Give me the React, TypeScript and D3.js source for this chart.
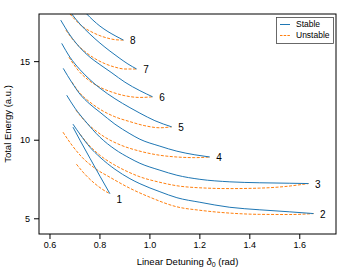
import React, { useEffect, useRef } from "react";
import * as d3 from "d3";

// [detuning (rad), total energy (a.u.)]
const stable1: [number, number][] = [[0.694, 10.8], [0.722, 9.97], [0.762, 8.82], [0.802, 7.68], [0.842, 6.56]];
const unstable1: [number, number][] = [[0.708, 8.44], [0.742, 7.8], [0.782, 7.2], [0.814, 6.82], [0.842, 6.56]];

const stable2: [number, number][] = [[0.694, 10.99], [0.722, 10.35], [0.762, 9.52], [0.802, 8.89], [0.862, 8.12], [0.922, 7.52], [0.962, 7.2], [1.042, 6.69], [1.11, 6.31], [1.202, 6.02], [1.322, 5.7], [1.442, 5.54], [1.562, 5.41], [1.657, 5.3]];
const unstable2: [number, number][] = [[0.654, 10.48], [0.69, 9.65], [0.73, 8.89], [0.782, 8.18], [0.842, 7.61], [0.922, 6.91], [1.002, 6.34], [1.11, 5.73], [1.202, 5.51], [1.322, 5.33], [1.442, 5.25], [1.562, 5.24], [1.657, 5.3]];

const stable3: [number, number][] = [[0.669, 12.83], [0.702, 12.01], [0.742, 11.21], [0.802, 10.16], [0.862, 9.39], [0.922, 8.82], [0.962, 8.5], [1.042, 8.06], [1.11, 7.74], [1.202, 7.48], [1.322, 7.32], [1.442, 7.26], [1.562, 7.23], [1.637, 7.21]];
const unstable3: [number, number][] = [[0.722, 10.35], [0.762, 9.59], [0.802, 9.01], [0.862, 8.38], [0.922, 7.9], [0.962, 7.64], [1.042, 7.29], [1.11, 7.07], [1.202, 6.94], [1.322, 6.89], [1.442, 6.92], [1.542, 7.02], [1.637, 7.21]];

const stable4: [number, number][] = [[0.655, 14.54], [0.69, 13.63], [0.722, 12.9], [0.762, 12.26], [0.802, 11.75], [0.862, 10.99], [0.922, 10.38], [0.962, 10.03], [1.042, 9.59], [1.11, 9.27], [1.182, 9.04], [1.242, 8.9]];
const unstable4: [number, number][] = [[0.706, 11.88], [0.742, 11.18], [0.782, 10.61], [0.822, 10.16], [0.882, 9.68], [0.962, 9.27], [1.042, 9.01], [1.11, 8.9], [1.182, 8.86], [1.242, 8.9]];

const stable5: [number, number][] = [[0.649, 16.13], [0.682, 15.25], [0.722, 14.46], [0.762, 13.82], [0.802, 13.28], [0.862, 12.61], [0.922, 12.04], [0.962, 11.69], [1.022, 11.21], [1.089, 10.82]];
const unstable5: [number, number][] = [[0.69, 13.66], [0.722, 12.96], [0.762, 12.39], [0.802, 11.94], [0.862, 11.46], [0.922, 11.15], [0.982, 10.89], [1.042, 10.76], [1.089, 10.82]];

const stable6: [number, number][] = [[0.645, 17.61], [0.682, 16.66], [0.722, 15.86], [0.762, 15.25], [0.802, 14.78], [0.85, 14.25], [0.902, 13.66], [0.962, 13.12], [1.013, 12.73]];
const unstable6: [number, number][] = [[0.678, 15.25], [0.714, 14.43], [0.754, 13.82], [0.802, 13.34], [0.85, 13.03], [0.902, 12.8], [0.962, 12.69], [1.013, 12.73]];

const stable7: [number, number][] = [[0.689, 18.0], [0.722, 17.36], [0.762, 16.72], [0.802, 16.15], [0.842, 15.64], [0.882, 15.17], [0.914, 14.82], [0.949, 14.5]];
const unstable7: [number, number][] = [[0.666, 16.97], [0.702, 16.21], [0.742, 15.61], [0.782, 15.16], [0.822, 14.84], [0.862, 14.62], [0.902, 14.5], [0.949, 14.5]];

const stable8: [number, number][] = [[0.749, 18.0], [0.774, 17.61], [0.802, 17.23], [0.834, 16.88], [0.866, 16.59], [0.896, 16.34]];
const unstable8: [number, number][] = [[0.682, 18.0], [0.706, 17.58], [0.734, 17.18], [0.77, 16.85], [0.802, 16.62], [0.834, 16.46], [0.866, 16.36], [0.896, 16.34]];

const branchLabels = ["1", "2", "3", "4", "5", "6", "7", "8"];
const stableSeries = [stable1, stable2, stable3, stable4, stable5, stable6, stable7, stable8];
const unstableSeries = [unstable1, unstable2, unstable3, unstable4, unstable5, unstable6, unstable7, unstable8];

const xTicks = [0.6, 0.8, 1.0, 1.2, 1.4, 1.6];
const yTicks = [5, 10, 15];
const legendNames = ["Stable", "Unstable"];

const W = 354;
const H = 272;
const FONT = "'Liberation Sans', Arial, sans-serif";
const BLUE = "#1f77b4";
const ORANGE = "#ff7f0e";

const App = () => {
  const svgRef = useRef<SVGSVGElement>(null);

  useEffect(() => {
    const left = 39, top = 14, right = 336, bottom = 234;

    const x = d3.scaleLinear().domain([0.558, 1.747]).range([left, right]);
    const y = d3.scaleLinear().domain([4, 18]).range([bottom, top]);

    const svg = d3.select(svgRef.current);
    svg.selectAll("*").remove();

    svg.append("defs").append("clipPath").attr("id", "plot-clip")
      .append("rect")
      .attr("x", left).attr("y", top)
      .attr("width", right - left).attr("height", bottom - top);

    const line = d3.line<[number, number]>()
      .x(d => x(d[0]))
      .y(d => y(d[1]))
      .curve(d3.curveMonotoneX);

    const curves = svg.append("g").attr("clip-path", "url(#plot-clip)");

    // unstable (dashed) first, stable on top
    curves.selectAll("path.unstable")
      .data(unstableSeries)
      .join("path")
      .attr("class", "unstable")
      .attr("d", d => line(d))
      .attr("fill", "none")
      .attr("stroke", ORANGE)
      .attr("stroke-width", 1)
      .attr("stroke-dasharray", "3,1.5");

    curves.selectAll("path.stable")
      .data(stableSeries)
      .join("path")
      .attr("class", "stable")
      .attr("d", d => line(d))
      .attr("fill", "none")
      .attr("stroke", BLUE)
      .attr("stroke-width", 1);

    // branch numbers next to each fold point
    svg.append("g")
      .selectAll("text")
      .data(stableSeries)
      .join("text")
      .attr("x", d => x(d[d.length - 1][0]) + 6.5)
      .attr("y", (d, i) => y(d[d.length - 1][1]) + (i === 0 ? 6 : 0.5))
      .attr("dy", "0.35em")
      .attr("font-family", FONT)
      .attr("font-size", 10)
      .attr("fill", "black")
      .text((d, i) => branchLabels[i]);

    // axes
    const xAxis = svg.append("g")
      .attr("transform", `translate(0,${bottom})`)
      .call(d3.axisBottom(x).tickValues(xTicks).tickSize(5).tickPadding(3).tickFormat(d3.format(".1f")));
    const yAxis = svg.append("g")
      .attr("transform", `translate(${left},0)`)
      .call(d3.axisLeft(y).tickValues(yTicks).tickSize(5).tickPadding(4).tickFormat(d3.format("d")));

    [xAxis, yAxis].forEach(a => {
      a.select(".domain").remove();
      a.selectAll("text").attr("font-family", FONT).attr("font-size", 9).attr("fill", "black");
      a.selectAll("line").attr("stroke", "black");
    });

    // frame
    svg.append("rect")
      .attr("x", left).attr("y", top)
      .attr("width", right - left).attr("height", bottom - top)
      .attr("fill", "none")
      .attr("stroke", "black")
      .attr("stroke-width", 1);

    // axis titles
    const xTitle = svg.append("text")
      .attr("x", (left + right) / 2)
      .attr("y", 265)
      .attr("text-anchor", "middle")
      .attr("font-family", FONT)
      .attr("font-size", 9.5)
      .attr("fill", "black");
    xTitle.append("tspan").text("Linear Detuning ");
    xTitle.append("tspan").attr("font-style", "italic").text("δ");
    xTitle.append("tspan").attr("font-size", 7).attr("dy", 2).text("0");
    xTitle.append("tspan").attr("dy", -2).text(" (rad)");

    svg.append("text")
      .attr("transform", `translate(11,${(top + bottom) / 2}) rotate(-90)`)
      .attr("text-anchor", "middle")
      .attr("font-family", FONT)
      .attr("font-size", 9.5)
      .attr("fill", "black")
      .text("Total Energy (a.u.)");

    // legend
    const lg = svg.append("g");
    lg.append("rect")
      .attr("x", 276.5).attr("y", 17.5)
      .attr("width", 57).attr("height", 26)
      .attr("fill", "white")
      .attr("stroke", "#444")
      .attr("stroke-width", 0.8);
    legendNames.forEach((name, i) => {
      const yy = 24.5 + i * 11;
      const stable = i === 0;
      lg.append("line")
        .attr("x1", 280).attr("x2", 290)
        .attr("y1", yy).attr("y2", yy)
        .attr("stroke", stable ? BLUE : ORANGE)
        .attr("stroke-width", 1)
        .attr("stroke-dasharray", stable ? null : "2.5,1.2");
      lg.append("text")
        .attr("x", 296)
        .attr("y", yy)
        .attr("dy", "0.35em")
        .attr("font-family", FONT)
        .attr("font-size", 8.5)
        .attr("fill", "black")
        .text(name);
    });
  }, []);

  return (
    <svg
      ref={svgRef}
      width={W}
      height={H}
      style={{ position: "absolute", left: 0, top: 0, background: "white" }}
    />
  );
};

export default App;
